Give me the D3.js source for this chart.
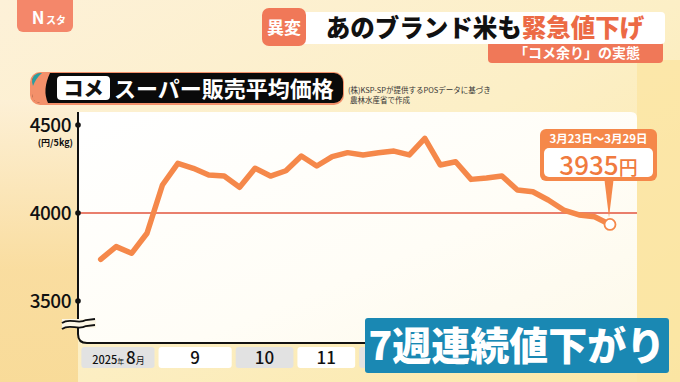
<!DOCTYPE html>
<html>
<head>
<meta charset="utf-8">
<script src="https://cdn.jsdelivr.net/npm/d3@7"></script>
<style>
  body { margin: 0; padding: 0; overflow: hidden; }
  svg { display: block; font-family: "Noto Sans CJK JP", "Noto Sans", sans-serif; }
</style>
</head>
<body>
<div id="chart"></div>
<script>
// weekly average price (yen / 5kg), Aug 2025 - Mar 2026
var prices = [3737, 3809, 3771, 3885, 4159, 4282, 4254, 4216, 4210, 4146,
              4254, 4210, 4240, 4324, 4267, 4320, 4343, 4330, 4342, 4352,
              4330, 4424, 4273, 4291, 4191, 4199, 4210, 4131, 4121, 4074,
              4017, 3989, 3979, 3935]
var months = ["8", "9", "10", "11", "12", "1", "2", "3"]
var monthWeeks = [5, 5, 4, 4, 5, 4, 4, 4]
var yTicks = [3500, 4000, 4500]
var refLine = 4000

var w = 680
var h = 382
var orange = "#f5884a"
var bannerLeft = 365

var svg = d3.select("#chart")
    .append("svg")
    .attr("width", w)
    .attr("height", h)

var defs = svg.append("defs")

var bg = defs.append("linearGradient").attr("id", "bg")
    .attr("x1", 0).attr("y1", 0).attr("x2", 1).attr("y2", 1)
bg.append("stop").attr("offset", "0%").attr("stop-color", "#fdf1d8")
bg.append("stop").attr("offset", "50%").attr("stop-color", "#fcefc6")
bg.append("stop").attr("offset", "100%").attr("stop-color", "#fbe7a6")

var leftGlow = defs.append("linearGradient").attr("id", "leftGlow")
    .attr("x1", 0).attr("y1", 0).attr("x2", 0).attr("y2", 1)
leftGlow.append("stop").attr("offset", "0%").attr("stop-color", "#fdf0d6")
leftGlow.append("stop").attr("offset", "60%").attr("stop-color", "#f9db9b")
leftGlow.append("stop").attr("offset", "100%").attr("stop-color", "#f8d994")

var panelGrad = defs.append("linearGradient").attr("id", "panelGrad")
    .attr("x1", 0).attr("y1", 0).attr("x2", 1).attr("y2", 1)
panelGrad.append("stop").attr("offset", "0%").attr("stop-color", "#ffffff")
panelGrad.append("stop").attr("offset", "60%").attr("stop-color", "#fffdf6")
panelGrad.append("stop").attr("offset", "100%").attr("stop-color", "#fdf9ea")

// background
svg.append("rect").attr("width", w).attr("height", h).attr("fill", "url(#bg)")
svg.append("rect").attr("x", 0).attr("y", 100).attr("width", 78).attr("height", 282)
    .attr("fill", "url(#leftGlow)").attr("opacity", 0.9)
svg.append("rect").attr("x", 637).attr("y", 60).attr("width", 43).attr("height", 322)
    .attr("fill", "#fbe5a2").attr("opacity", 0.8)

// scales
var x = d3.scaleLinear().domain([0, prices.length - 1]).range([100.7, 610])
var y = d3.scaleLinear().domain([3500, 4500]).range([301, 125])

// chart panel
svg.append("path")
    .attr("d", "M78,112 H631 Q637,112 637,118 V342 H88 Q78,342 78,332 Z")
    .attr("fill", "url(#panelGrad)")

// month boxes
var start = -1.35
var monthData = months.map(function(m, i) {
    var s = start
    start += monthWeeks[i]
    return {label: m, s: s, e: start, i: i}
})

var mg = svg.selectAll(".month")
    .data(monthData)
    .enter()
    .append("g")
    .attr("class", "month")

mg.append("rect")
    .attr("x", function(d) { return x(d.s) + 1.5 })
    .attr("y", 347)
    .attr("width", function(d) { return x(d.e) - x(d.s) - 4 })
    .attr("height", 21)
    .attr("rx", 3)
    .attr("fill", function(d) { return d.i % 2 == 0 ? "#e2e2e2" : "#ffffff" })

// labels under the banner are not visible, so only the uncovered ones get text
mg.filter(function(d) { return d.i > 0 && x(d.e) < bannerLeft })
    .append("text")
    .attr("x", function(d) { return (x(d.s) + x(d.e)) / 2 - 0.5 })
    .attr("y", 364)
    .attr("text-anchor", "middle")
    .attr("font-size", 17)
    .attr("font-weight", 500)
    .attr("fill", "#111")
    .text(function(d) { return d.label })

var first = mg.filter(function(d) { return d.i == 0 })
    .append("text")
    .attr("x", function(d) { return (x(d.s) + x(d.e)) / 2 })
    .attr("y", 364)
    .attr("text-anchor", "middle")
    .attr("fill", "#111")
first.append("tspan").attr("font-size", 11).attr("font-weight", 500).text("2025")
first.append("tspan").attr("font-size", 7).text("年 ")
first.append("tspan").attr("font-size", 17).attr("font-weight", 500).text(months[0])
first.append("tspan").attr("font-size", 9).text("月")

// reference line at 4000
svg.append("line")
    .attr("x1", 80).attr("x2", 637)
    .attr("y1", y(refLine)).attr("y2", y(refLine))
    .attr("stroke", "#e2553e")
    .attr("stroke-width", 1.5)

// axes
svg.append("path")
    .attr("d", "M78,112 V334 Q78,343 87,343 H637")
    .attr("fill", "none")
    .attr("stroke", "#111")
    .attr("stroke-width", 2)

svg.selectAll(".tickDot")
    .data(yTicks)
    .enter()
    .append("circle")
    .attr("cx", 78)
    .attr("cy", function(d) { return y(d) })
    .attr("r", 2.8)
    .attr("fill", "#111")

svg.selectAll(".tickLabel")
    .data(yTicks)
    .enter()
    .append("text")
    .attr("x", 71)
    .attr("y", function(d) { return y(d) + 7 })
    .attr("text-anchor", "end")
    .attr("font-size", 19)
    .attr("font-weight", 500)
    .attr("fill", "#111")
    .attr("letter-spacing", -0.5)
    .text(function(d) { return d })

svg.append("text")
    .attr("x", 73).attr("y", 146)
    .attr("text-anchor", "end")
    .attr("font-size", 9)
    .attr("font-weight", 700)
    .attr("fill", "#111")
    .text("(円/5kg)")

// axis break
svg.append("rect").attr("x", 62).attr("y", 319).attr("width", 34).attr("height", 9)
    .attr("fill", "#fdf7e6")
svg.selectAll(".brk")
    .data([0, 6])
    .enter()
    .append("path")
    .attr("d", function(d) {
        var yy = 320 + d
        return "M62," + (yy + 3) + " C70," + (yy - 3) + " 78," + (yy + 5) + " 86," + (yy) + " L95," + (yy - 1)
    })
    .attr("fill", "none")
    .attr("stroke", "#111")
    .attr("stroke-width", 1.8)

// price line
var line = d3.line()
    .x(function(d, i) { return x(i) })
    .y(function(d) { return y(d) })

svg.append("path")
    .datum(prices)
    .attr("d", line)
    .attr("fill", "none")
    .attr("stroke", orange)
    .attr("stroke-width", 5.5)
    .attr("stroke-linejoin", "round")
    .attr("stroke-linecap", "round")

var last = prices.length - 1
svg.append("circle")
    .attr("cx", x(last))
    .attr("cy", y(prices[last]))
    .attr("r", 5.5)
    .attr("fill", "#fff")
    .attr("stroke", orange)
    .attr("stroke-width", 1.8)

// callout
var cx = x(last) - 1
svg.append("path")
    .attr("d", "M" + (cx - 5) + ",176 L" + cx + "," + (y(prices[last]) - 7) + " L" + (cx + 5) + ",176 Z")
    .attr("fill", orange)
svg.append("rect")
    .attr("x", 540).attr("y", 129).attr("width", 117).attr("height", 52)
    .attr("rx", 6)
    .attr("fill", orange)
svg.append("rect")
    .attr("x", 544).attr("y", 148).attr("width", 109).attr("height", 29)
    .attr("rx", 5)
    .attr("fill", "#fff")
svg.append("text")
    .attr("x", 598.5).attr("y", 142.5)
    .attr("text-anchor", "middle")
    .attr("font-size", 11.5)
    .attr("font-weight", 700)
    .attr("fill", "#fff")
    .text("3月23日～3月29日")
var val = svg.append("text")
    .attr("x", 598.5).attr("y", 174.5)
    .attr("text-anchor", "middle")
    .attr("fill", "#f07a3e")
    .attr("font-weight", 500)
val.append("tspan").attr("font-size", 26).text(prices[last])
val.append("tspan").attr("font-size", 19).text("円")

// chart title
svg.append("rect")
    .attr("x", 30).attr("y", 72).attr("width", 314).attr("height", 33)
    .attr("rx", 10)
    .attr("fill", "#f3906a")
svg.append("rect")
    .attr("x", 32).attr("y", 73).attr("width", 311).attr("height", 30)
    .attr("rx", 9)
    .attr("fill", "#0a0a0a")
svg.append("path")
    .attr("d", "M32,82 Q32,74 40,73 L50,73 Q42,90 48,103 L40,103 Q32,102 32,94 Z")
    .attr("fill", "#f3906a")
svg.append("path")
    .attr("d", "M32,82 Q32,74 40,73 L42,73 Q36,78 33,86 Z")
    .attr("fill", "#2a9ea0")
svg.append("rect")
    .attr("x", 57).attr("y", 76).attr("width", 53).attr("height", 24)
    .attr("rx", 4)
    .attr("fill", "#fff")
svg.append("text")
    .attr("x", 83.5).attr("y", 96)
    .attr("text-anchor", "middle")
    .attr("font-size", 20)
    .attr("font-weight", 900)
    .attr("fill", "#111")
    .text("コメ")
svg.append("text")
    .attr("x", 114).attr("y", 97)
    .attr("font-size", 22)
    .attr("font-weight", 700)
    .attr("fill", "#fff")
    .text("スーパー販売平均価格")

svg.append("text")
    .attr("x", 348).attr("y", 93)
    .attr("font-size", 7.5)
    .attr("fill", "#333")
    .text("(株)KSP-SPが提供するPOSデータに基づき")
svg.append("text")
    .attr("x", 350).attr("y", 103)
    .attr("font-size", 7.5)
    .attr("fill", "#333")
    .text("農林水産省で作成")

// header
svg.append("rect")
    .attr("x", 17).attr("y", -8).attr("width", 56).attr("height", 40)
    .attr("rx", 6)
    .attr("fill", "#f4876a")
svg.append("text")
    .attr("x", 38).attr("y", 24)
    .attr("text-anchor", "middle")
    .attr("font-size", 17)
    .attr("font-weight", 700)
    .attr("fill", "#fff")
    .text("N")
svg.append("text")
    .attr("x", 56).attr("y", 24)
    .attr("text-anchor", "middle")
    .attr("font-size", 10)
    .attr("font-weight", 700)
    .attr("fill", "#fff")
    .text("スタ")

svg.append("rect")
    .attr("x", 488).attr("y", 41).attr("width", 175).attr("height", 22)
    .attr("rx", 4)
    .attr("fill", "#f07858")
svg.append("text")
    .attr("x", 577).attr("y", 58)
    .attr("text-anchor", "middle")
    .attr("font-size", 14)
    .attr("font-weight", 700)
    .attr("fill", "#fff")
    .text("「コメ余り」の実態")

svg.append("rect")
    .attr("x", 300).attr("y", 12).attr("width", 365).attr("height", 32)
    .attr("rx", 4)
    .attr("fill", "#fff")
svg.append("rect")
    .attr("x", 262).attr("y", 8).attr("width", 44).attr("height", 38)
    .attr("rx", 7)
    .attr("fill", "#f07858")
svg.append("text")
    .attr("x", 284).attr("y", 34)
    .attr("text-anchor", "middle")
    .attr("font-size", 17)
    .attr("font-weight", 700)
    .attr("fill", "#fff")
    .text("異変")
var head = svg.append("text")
    .attr("x", 485).attr("y", 37)
    .attr("text-anchor", "middle")
    .attr("font-size", 24.5)
    .attr("font-weight", 900)
head.append("tspan").attr("fill", "#111").text("あのブランド米も")
head.append("tspan").attr("fill", "#ec6a45").text("緊急値下げ")

// bottom banner
svg.append("rect")
    .attr("x", bannerLeft).attr("y", 318).attr("width", 304).attr("height", 55)
    .attr("rx", 3)
    .attr("fill", "#1a88b3")
svg.append("text")
    .attr("x", 517).attr("y", 360)
    .attr("text-anchor", "middle")
    .attr("font-size", 39)
    .attr("font-weight", 900)
    .attr("fill", "#fff")
    .text("7週連続値下がり")
</script>
</body>
</html>
